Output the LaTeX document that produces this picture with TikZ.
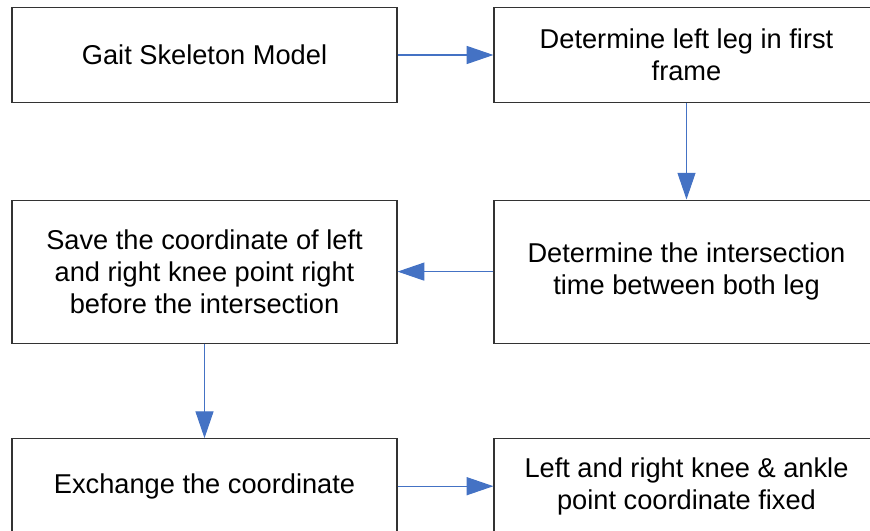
\documentclass[tikz,border=0pt]{standalone}
\usepackage{fontspec}
\setmainfont{Liberation Sans}
\usetikzlibrary{positioning,arrows.meta}
\definecolor{flowblue}{RGB}{68,114,196}
\begin{document}
\begin{tikzpicture}
    \tikzset{stage/.style={draw=black!80,line width=0.9bp,minimum
        width=288.75bp,minimum height=71.25bp,align=center,
        font=\fontsize{20.5}{24}\selectfont},
      tall/.style={stage,minimum height=107.25bp},
      flow/.style={draw=flowblue,line width=0.8bp,
        -{Triangle[length=20bp,width=13.5bp]}},
      node distance=72.3bp and 71.85bp}
    \useasboundingbox (-153.375bp,41.25bp) rectangle ++(652.5bp,-398.25bp);
    \node[stage] (model) at (0,0) {Gait Skeleton Model};
    \node[stage] (leftleg) [right=of model]
    {Determine left leg in first\\frame};
    \node[tall] (cross) [below=of leftleg]
    {Determine the intersection\\time between both leg};
    \node[tall] (save) [left=of cross]
    {Save the coordinate of left\\and right knee point right\\before the intersection};
    \node[stage] (swap) [below=70.8bp of save] {Exchange the coordinate};
    \node[stage] (fixed) [right=of swap]
    {Left and right knee \& ankle\\point coordinate fixed};

    \draw[flow] (model) -- (leftleg);
    \draw[flow] (leftleg) -- (cross);
    \draw[flow] (cross) -- (save);
    \draw[flow] (save) -- (swap);
    \draw[flow] (swap) -- (fixed);
  \end{tikzpicture}
\end{document}
